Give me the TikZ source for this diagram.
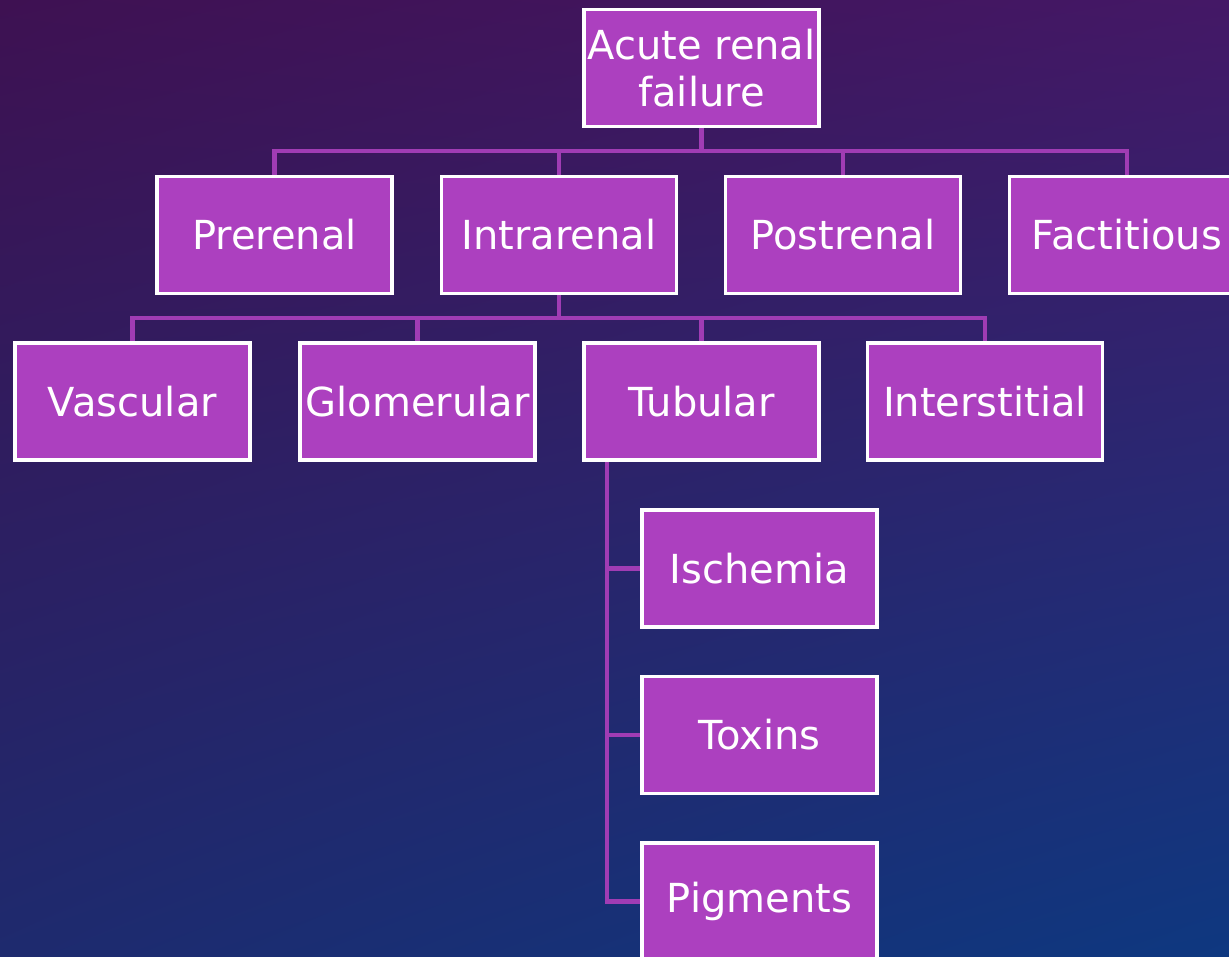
\documentclass[tikz,border=0pt]{standalone}
\usepackage{fontspec}
\setmainfont{DejaVu Sans}
\usetikzlibrary{backgrounds,shadings}
\definecolor{boxfill}{RGB}{172,64,191}
\definecolor{connc}{RGB}{160,60,180}
\definecolor{bgTL}{RGB}{62,17,82}
\definecolor{bgTR}{RGB}{68,24,102}
\definecolor{bgBL}{RGB}{30,42,110}
\definecolor{bgBR}{RGB}{14,56,128}
\pgfdeclarelayer{bg}
\pgfsetlayers{bg,background,main}
\tikzset{
  box/.style={draw=white, line width=3.6pt, fill=boxfill, text=white,
    minimum width=235pt, minimum height=117pt, inner sep=0pt, align=center,
    font=\fontsize{40}{47}\selectfont},
  conn/.style={draw=connc, line width=4.2pt}
}
\begin{document}
\begin{tikzpicture}[x=1pt,y=-1pt]
\useasboundingbox (0,0) rectangle (1229,957);
\clip (0,0) rectangle (1229,957);
\begin{pgfonlayer}{bg}
\shade[upper left=bgTL, upper right=bgTR, lower left=bgBL, lower right=bgBR] (0,0) rectangle (1229,957);
\end{pgfonlayer}
% nodes
\node[box] (top) at (701.5,68) {Acute renal\\failure};
\node[box] (pre) at (274.5,235) {Prerenal};
\node[box] (intra) at (559,235) {Intrarenal};
\node[box] (post) at (843,235) {Postrenal};
\node[box] (fac) at (1127,235) {Factitious};
\node[box] (vas) at (132.5,401.5) {Vascular};
\node[box] (glo) at (417.5,401.5) {Glomerular};
\node[box] (tub) at (701.5,401.5) {Tubular};
\node[box] (int) at (985,401.5) {Interstitial};
\node[box] (isc) at (759.5,568.5) {Ischemia};
\node[box] (tox) at (759.5,735) {Toxins};
\node[box] (pig) at (759.5,901.5) {Pigments};
\coordinate (h1) at (701.5,151);
\coordinate (h2) at (559,318);
\coordinate (v0) at (607,460);
% connectors
\begin{pgfonlayer}{background}
\draw[conn] (top.south) -- (h1);
\draw[conn, line cap=rect] (pre.north) -- (pre.north |- h1) -- (fac.north |- h1) -- (fac.north);
\draw[conn] (intra.north) -- (intra.north |- h1);
\draw[conn] (post.north) -- (post.north |- h1);
\draw[conn] (intra.south) -- (h2);
\draw[conn] (vas.north) -- (vas.north |- h2) -- (int.north |- h2) -- (int.north);
\draw[conn] (glo.north) -- (glo.north |- h2);
\draw[conn] (tub.north) -- (tub.north |- h2);
\draw[conn] (v0 |- tub.south) -- (v0 |- pig.west) -- (pig.west);
\draw[conn] (v0 |- isc.west) -- (isc.west);
\draw[conn] (v0 |- tox.west) -- (tox.west);
\end{pgfonlayer}
\end{tikzpicture}
\end{document}
